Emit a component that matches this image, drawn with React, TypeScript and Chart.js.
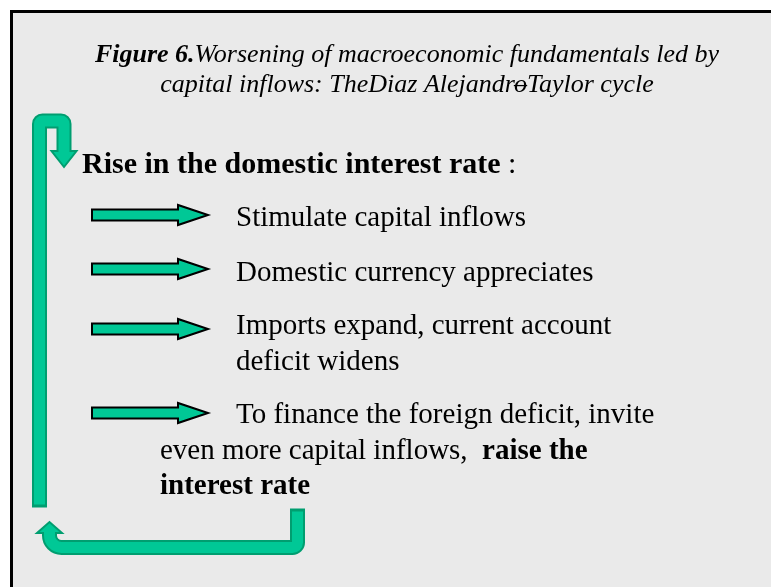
import React, { useEffect, useRef } from "react";
import { Chart, registerables } from "chart.js";

Chart.register(...registerables);

const SERIF = '"Liberation Serif", "Times New Roman", serif';

// ---- text content ----
const TITLE_LINE_1: [string, string][] = [
  ["Figure 6.", "bold italic"],
  ["Worsening of macroeconomic fundamentals led by", "italic"],
];
const TITLE_LINE_2_A = "capital inflows: TheDiaz Alejandro";
const TITLE_LINE_2_DASH = "\u2013";
const TITLE_LINE_2_B = "Taylor cycle";
const HEADING = "Rise in the domestic interest rate";
const HEADING_END = " :";

type Run = [string, boolean];
const STEP_1: Run[][] = [[["Stimulate capital inflows", false]]];
const STEP_2: Run[][] = [[["Domestic currency appreciates", false]]];
const STEP_3: Run[][] = [
  [["Imports expand, current account", false]],
  [["deficit widens", false]],
];
const STEP_4: Run[][] = [
  [["To finance the foreign deficit, invite", false]],
  [["even more capital inflows,  ", false], ["raise the", true]],
  [["interest rate", true]],
];
const STEPS = [STEP_1, STEP_2, STEP_3, STEP_4];

// ---- layout (styling, not data) ----
const W = 771;
const H = 587;
const L = {
  frame: 10,
  frameW: 3,
  titleY: [62, 92],
  titleCx: 407,
  titleSize: 26,
  headingX: 82,
  headingY: 173,
  headingSize: 30,
  bodySize: 29,
  arrowX0: 92,
  arrowHeadX: 178,
  arrowTipX: 208,
  arrowY: [215, 269, 329, 413],
  firstX: 236,
  wrapX: [236, 236, 236, 160],
  textY: [226, 281, 334, 423],
  lineH: 35.5,
};
const FILL = "#00c896";
const EDGE = "#009e70";
const BG = "#eaeaea";

function roundedPolyline(ctx: CanvasRenderingContext2D, pts: number[][], radii: number[]) {
  ctx.beginPath();
  ctx.moveTo(pts[0][0], pts[0][1]);
  for (let i = 1; i < pts.length - 1; i++) {
    ctx.arcTo(pts[i][0], pts[i][1], pts[i + 1][0], pts[i + 1][1], radii[i - 1]);
  }
  ctx.lineTo(pts[pts.length - 1][0], pts[pts.length - 1][1]);
}

const diagramPlugin = {
  id: "diagram",
  beforeDraw(chart: any) {
    const ctx: CanvasRenderingContext2D = chart.ctx;
    const X = (v: number) => chart.scales.x.getPixelForValue(v);
    const Y = (v: number) => chart.scales.y.getPixelForValue(v);
    ctx.save();
    ctx.fillStyle = "#ffffff";
    ctx.fillRect(X(0), Y(0), X(W) - X(0), Y(H) - Y(0));
    ctx.fillStyle = "#000000";
    ctx.fillRect(X(L.frame), Y(L.frame), X(W) - X(L.frame), L.frameW);
    ctx.fillRect(X(L.frame), Y(L.frame), L.frameW, Y(H) - Y(L.frame));
    ctx.fillStyle = BG;
    const f = L.frame + L.frameW;
    ctx.fillRect(X(f), Y(f), X(W) - X(f), Y(H) - Y(f));
    ctx.restore();
  },
  afterDraw(chart: any) {
    const ctx: CanvasRenderingContext2D = chart.ctx;
    const X = (v: number) => chart.scales.x.getPixelForValue(v);
    const Y = (v: number) => chart.scales.y.getPixelForValue(v);
    ctx.save();

    // ---- title ----
    ctx.fillStyle = "#000";
    ctx.textBaseline = "alphabetic";
    const tFont = (style: string) => `${style} ${L.titleSize}px ${SERIF}`;
    let total = 0;
    TITLE_LINE_1.forEach(([t, s]) => {
      ctx.font = tFont(s);
      total += ctx.measureText(t).width;
    });
    let x = X(L.titleCx) - total / 2;
    TITLE_LINE_1.forEach(([t, s]) => {
      ctx.font = tFont(s);
      ctx.fillText(t, x, Y(L.titleY[0]));
      x += ctx.measureText(t).width;
    });
    ctx.font = tFont("italic");
    const wA = ctx.measureText(TITLE_LINE_2_A).width;
    const wB = ctx.measureText(TITLE_LINE_2_B).width;
    const wo = ctx.measureText("o").width;
    const wd = ctx.measureText(TITLE_LINE_2_DASH).width;
    x = X(L.titleCx) - (wA + wB) / 2;
    ctx.fillText(TITLE_LINE_2_A, x, Y(L.titleY[1]));
    ctx.fillText(TITLE_LINE_2_DASH, x + wA - wo / 2 - wd / 2, Y(L.titleY[1]));
    ctx.fillText(TITLE_LINE_2_B, x + wA, Y(L.titleY[1]));

    // ---- heading ----
    ctx.font = `bold ${L.headingSize}px ${SERIF}`;
    ctx.fillText(HEADING, X(L.headingX), Y(L.headingY));
    const hw = ctx.measureText(HEADING).width;
    ctx.font = `${L.headingSize}px ${SERIF}`;
    ctx.fillText(HEADING_END, X(L.headingX) + hw, Y(L.headingY));

    // ---- steps ----
    STEPS.forEach((lines, i) => {
      lines.forEach((runs, j) => {
        let tx = X(j === 0 ? L.firstX : L.wrapX[i]);
        const ty = Y(L.textY[i] + j * L.lineH);
        runs.forEach(([t, b]) => {
          ctx.font = `${b ? "bold " : ""}${L.bodySize}px ${SERIF}`;
          ctx.fillText(t, tx, ty);
          tx += ctx.measureText(t).width;
        });
      });
    });

    // ---- right arrows ----
    L.arrowY.forEach((c) => {
      ctx.beginPath();
      ctx.moveTo(X(L.arrowX0), Y(c - 5.5));
      ctx.lineTo(X(L.arrowHeadX), Y(c - 5.5));
      ctx.lineTo(X(L.arrowHeadX), Y(c - 10));
      ctx.lineTo(X(L.arrowTipX), Y(c));
      ctx.lineTo(X(L.arrowHeadX), Y(c + 10));
      ctx.lineTo(X(L.arrowHeadX), Y(c + 5.5));
      ctx.lineTo(X(L.arrowX0), Y(c + 5.5));
      ctx.closePath();
      ctx.fillStyle = FILL;
      ctx.fill();
      ctx.lineWidth = 2;
      ctx.strokeStyle = "#000";
      ctx.lineJoin = "miter";
      ctx.stroke();
    });

    // ---- U-turn arrows ----
    const drawU = (pts: number[][], radii: number[], head: number[][]) => {
      const outer = pts.map((p) => [X(p[0]), Y(p[1])]);
      const ext = (a: number[], b: number[], d: number) => {
        const dx = a[0] - b[0], dy = a[1] - b[1];
        const len = Math.hypot(dx, dy) || 1;
        return [a[0] + (dx / len) * d, a[1] + (dy / len) * d];
      };
      const o2 = outer.slice();
      o2[0] = ext(outer[0], outer[1], 1.5);
      ctx.lineCap = "butt";
      ctx.lineJoin = "round";
      ctx.strokeStyle = EDGE;
      ctx.lineWidth = 15;
      roundedPolyline(ctx, o2, radii);
      ctx.stroke();
      ctx.beginPath();
      ctx.moveTo(X(head[0][0]), Y(head[0][1]));
      ctx.lineTo(X(head[1][0]), Y(head[1][1]));
      ctx.lineTo(X(head[2][0]), Y(head[2][1]));
      ctx.closePath();
      ctx.fillStyle = FILL;
      ctx.fill();
      ctx.strokeStyle = EDGE;
      ctx.lineWidth = 2;
      ctx.lineJoin = "miter";
      ctx.stroke();
      const i2 = outer.slice();
      i2[0] = ext(outer[0], outer[1], -1.5);
      i2[i2.length - 1] = ext(outer[outer.length - 1], outer[outer.length - 2], 2);
      ctx.lineJoin = "round";
      ctx.strokeStyle = FILL;
      ctx.lineWidth = 11;
      roundedPolyline(ctx, i2, radii);
      ctx.stroke();
    };

    drawU(
      [[39.5, 506], [39.5, 121], [64, 121], [64, 151]],
      [3, 3],
      [[51.5, 151], [76.5, 151], [64, 167]]
    );
    drawU(
      [[297.5, 510], [297.5, 547.5], [49.5, 547.5], [49.5, 533]],
      [5, 12],
      [[37, 533], [62, 533], [49.5, 522]]
    );

    ctx.restore();
  },
};

export default function App() {
  const ref = useRef<HTMLCanvasElement | null>(null);
  useEffect(() => {
    document.body.style.margin = "0";
    const canvas = ref.current;
    if (!canvas) return;
    const chart = new Chart(canvas, {
      type: "scatter",
      data: { datasets: [{ data: [] }] },
      options: {
        animation: false,
        responsive: false,
        maintainAspectRatio: false,
        devicePixelRatio: 1,
        layout: { padding: 0 },
        events: [],
        plugins: { legend: { display: false }, tooltip: { enabled: false }, title: { display: false } },
        scales: {
          x: { type: "linear", min: 0, max: W, display: false },
          y: { type: "linear", min: 0, max: H, reverse: true, display: false },
        },
      },
      plugins: [diagramPlugin],
    });
    return () => chart.destroy();
  }, []);
  return (
    <div style={{ width: W, height: H }}>
      <canvas ref={ref} width={W} height={H} style={{ display: "block", width: W, height: H }} />
    </div>
  );
}
